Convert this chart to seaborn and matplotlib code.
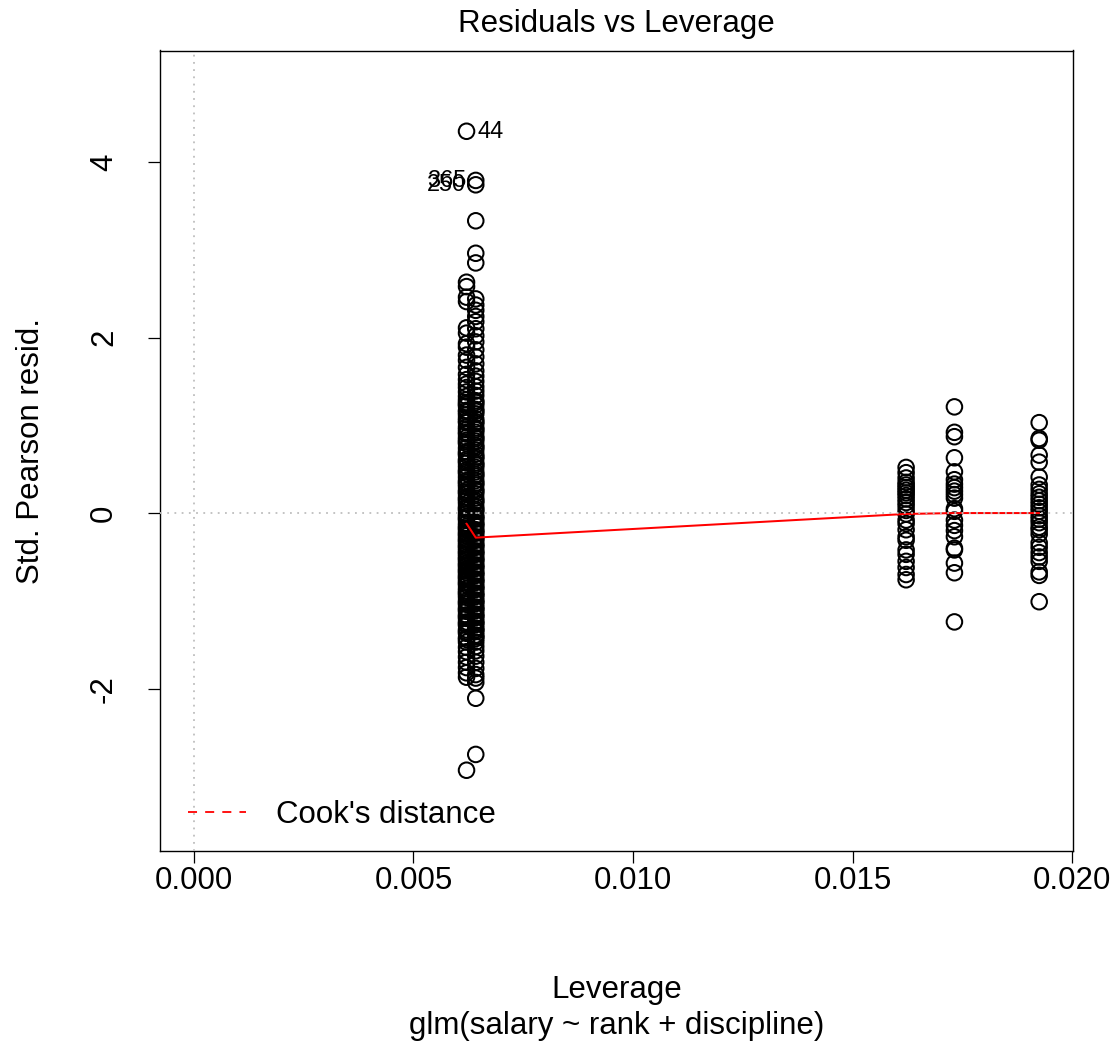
import numpy as np
import pandas as pd
import matplotlib
matplotlib.use("Agg")
import matplotlib.pyplot as plt
import seaborn as sns

# Leverage of each rank/discipline cell of the fitted glm
cell_leverage = [0.00621, 0.00642, 0.01622, 0.01732, 0.01925]

# Standardized Pearson residuals of the observations in each cell
resid_cell1 = [4.35, 2.63, 2.58, 2.46, 2.41, 2.11, 2.05, 1.93, 1.89, 1.80, 1.74, 1.66,
               1.58, 1.52, 1.47, 1.43, 1.38, 1.33, 1.29, 1.26, 1.22, 1.17, 1.12, 1.08,
               1.03, 0.98, 0.95, 0.90, 0.86, 0.83, 0.79, 0.74, 0.70, 0.66, 0.61, 0.57,
               0.53, 0.49, 0.45, 0.41, 0.37, 0.33, 0.30, 0.26, 0.22, 0.18, 0.14, 0.11,
               0.07, 0.03, -0.01, -0.04, -0.08, -0.12, -0.15, -0.19, -0.22, -0.26,
               -0.29, -0.33, -0.36, -0.40, -0.43, -0.47, -0.50, -0.54, -0.57, -0.61,
               -0.64, -0.68, -0.71, -0.75, -0.78, -0.82, -0.86, -0.89, -0.93, -0.96,
               -1.00, -1.04, -1.08, -1.12, -1.16, -1.20, -1.24, -1.28, -1.33, -1.37,
               -1.42, -1.47, -1.53, -1.58, -1.64, -1.70, -1.76, -1.82, -1.87, -2.93,
               1.24, 1.15, 1.05, 0.92, 0.81, 0.68, 0.59, 0.47, 0.35, 0.24, 0.16, 0.05,
               -0.06, -0.17, -0.24, -0.31, -0.38, -0.45, -0.52, -0.59, -0.66, -0.73,
               -0.80, -0.91, -1.02, -1.10, -1.18, -1.26, -1.35, -1.44]
resid_cell2 = [3.79, 3.74, 3.33, 2.96, 2.85, 2.44, 2.37, 2.31, 2.24, 2.18, 2.10, 2.02,
               1.95, 1.86, 1.78, 1.70, 1.62, 1.56, 1.50, 1.44, 1.39, 1.34, 1.28, 1.23,
               1.18, 1.13, 1.07, 1.02, 0.97, 0.92, 0.87, 0.82, 0.77, 0.72, 0.67, 0.62,
               0.57, 0.52, 0.47, 0.42, 0.37, 0.32, 0.27, 0.22, 0.17, 0.12, 0.07, 0.02,
               -0.03, -0.07, -0.11, -0.15, -0.19, -0.23, -0.27, -0.31, -0.35, -0.39,
               -0.43, -0.47, -0.51, -0.55, -0.59, -0.63, -0.67, -0.71, -0.75, -0.79,
               -0.83, -0.87, -0.91, -0.95, -0.99, -1.03, -1.07, -1.11, -1.15, -1.19,
               -1.23, -1.27, -1.31, -1.35, -1.39, -1.43, -1.47, -1.52, -1.57, -1.63,
               -1.70, -1.77, -1.84, -1.88, -1.93, -2.11, -2.75,
               1.26, 1.16, 1.04, 0.95, 0.85, 0.75, 0.64, 0.55, 0.44, 0.34, 0.25, 0.14,
               0.04, -0.05, -0.13, -0.21, -0.29, -0.37, -0.45, -0.53, -0.61, -0.69,
               -0.77, -0.85, -0.93, -1.01, -1.09, -1.17, -1.25, -1.33, -1.41]
resid_cell3 = [0.52, 0.46, 0.40, 0.35, 0.32, 0.29, 0.26, 0.23, 0.20, 0.16, 0.12, 0.08,
               0.03, -0.01, -0.08, -0.12, -0.19, -0.27, -0.31, -0.42, -0.47, -0.55,
               -0.62, -0.70, -0.76]
resid_cell4 = [1.21, 0.92, 0.87, 0.63, 0.47, 0.38, 0.33, 0.29, 0.25, 0.21, 0.17, 0.05,
               0.02, -0.08, -0.14, -0.20, -0.27, -0.40, -0.42, -0.57, -0.68, -1.24]
resid_cell5 = [1.03, 0.85, 0.83, 0.66, 0.58, 0.41, 0.32, 0.27, 0.22, 0.18, 0.14, 0.10,
               0.06, 0.02, -0.03, -0.07, -0.11, -0.16, -0.19, -0.24, -0.34, -0.39,
               -0.45, -0.50, -0.55, -0.67, -0.71, -1.01]

# lowess smooth of the residuals at each cell leverage
smooth_resid = [-0.12, -0.28, -0.01, 0.00, 0.00]

# Identified extreme observations
label_ids = ["44", "365", "250"]
label_lev = [0.00621, 0.00642, 0.00642]
label_res = [4.35, 3.79, 3.74]
label_side = ["right", "left", "left"]

cells = [resid_cell1, resid_cell2, resid_cell3, resid_cell4, resid_cell5]
df = pd.DataFrame({
    "leverage": np.concatenate([[lev] * len(r) for lev, r in zip(cell_leverage, cells)]),
    "resid": np.concatenate(cells),
})
smooth_df = pd.DataFrame({"leverage": cell_leverage, "resid": smooth_resid})

sns.set_style("ticks")
plt.rcParams["font.family"] = ["Liberation Sans", "DejaVu Sans"]
plt.rcParams["text.color"] = "black"
plt.rcParams["axes.labelcolor"] = "black"
plt.rcParams["xtick.color"] = "black"
plt.rcParams["ytick.color"] = "black"
FS = 22.5

fig = plt.figure(figsize=(11.2, 10.46), dpi=100)
ax = fig.add_axes([160 / 1120, 1 - 851 / 1046, 913 / 1120, 800.5 / 1046])

sns.scatterplot(data=df, x="leverage", y="resid", ax=ax, marker="o", s=125,
                facecolors="none", edgecolor="black", linewidth=1.45, zorder=3)
sns.lineplot(data=smooth_df, x="leverage", y="resid", ax=ax, color="red",
             linewidth=1.45, estimator=None, sort=False, zorder=4)

# reference lines
ax.axhline(0, color="#BEBEBE", linestyle=(0, (1, 3)), linewidth=1.3, zorder=5)
ax.axvline(0, color="#BEBEBE", linestyle=(0, (1, 3)), linewidth=1.3, zorder=5)

# labels for extreme points
for lab, lx, ly, side in zip(label_ids, label_lev, label_res, label_side):
    if side == "right":
        ax.annotate(lab, (lx, ly), xytext=(8, 0), textcoords="offset points",
                    ha="left", va="center", fontsize=FS * 0.75, color="black")
    else:
        ax.annotate(lab, (lx, ly), xytext=(-7, 0), textcoords="offset points",
                    ha="right", va="center", fontsize=FS * 0.75, color="black")

# limits as in R's plot.lm
xmax = max(cell_leverage)
ax.set_xlim(-0.04 * xmax, 1.04 * xmax)
allr = df["resid"].to_numpy()
lo, hi = allr.min(), allr.max()
rr = hi - lo
lo, hi = lo - 0.08 * rr, hi + 0.08 * rr
rr = hi - lo
ax.set_ylim(lo - 0.04 * rr, hi + 0.04 * rr)

ax.set_xticks([0.0, 0.005, 0.010, 0.015, 0.020])
ax.set_xticklabels(["0.000", "0.005", "0.010", "0.015", "0.020"])
ax.set_yticks([-2, 0, 2, 4])
ax.set_yticklabels(["-2", "0", "2", "4"])
ax.tick_params(axis="both", direction="out", length=8.6, width=0.9,
               labelsize=FS, colors="black", labelcolor="black")
ax.tick_params(axis="x", pad=2)
ax.tick_params(axis="y", pad=21)
for t in ax.get_yticklabels():
    t.set_rotation(90)
    t.set_va("center")

for sp in ax.spines.values():
    sp.set_visible(True)
    sp.set_color("black")
    sp.set_linewidth(1.0)

ax.set_xlabel("Leverage", fontsize=FS, labelpad=57, color="black")
ax.set_ylabel("Std. Pearson resid.", fontsize=FS, labelpad=31, color="black")
ax.set_title("Residuals vs Leverage", fontsize=FS, pad=13, color="black")
fig.text(616.5 / 1120, 1 - 1026 / 1046, "glm(salary ~ rank + discipline)",
         fontsize=FS, ha="center", va="center", color="black")

# Cook's distance legend entry
handle = plt.Line2D([], [], color="red", linestyle=(0, (5.0, 4.5)), linewidth=1.3)
leg = ax.legend([handle], ["Cook's distance"], loc="lower left", frameon=False,
                bbox_to_anchor=(0.0307, 0.026), borderaxespad=0, borderpad=0,
                handlelength=1.85, handletextpad=0.98, fontsize=FS)
for txt in leg.get_texts():
    txt.set_color("black")

ax.grid(False)
fig.savefig("out.png", dpi=100, facecolor="white")
